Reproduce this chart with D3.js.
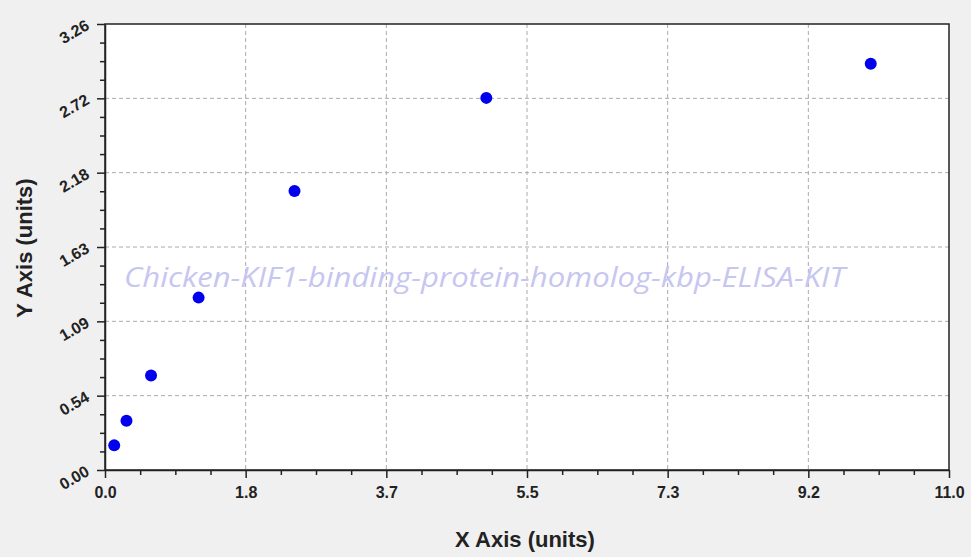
<!doctype html>
<html>
<head>
<meta charset="utf-8">
<title>ELISA standard curve</title>
<style>
  body { margin:0; background:#f0f0f0; }
  svg { display:block; }
  .axis path, .axis line { stroke:#222; stroke-width:1.5px; }
  .axis text { font-family:"Liberation Sans", Arial, sans-serif; font-weight:bold; fill:#222; }
  .grid line { stroke:#aaa; stroke-width:1px; stroke-dasharray:4,3; }
  .title { font-family:"Liberation Sans", Arial, sans-serif; font-weight:bold; fill:#222; font-size:22px; }
  .mark { font-family:"Open Sans", sans-serif; font-style:italic; fill:#c6c6f0; font-size:28px; }
</style>
<script src="https://cdn.jsdelivr.net/npm/d3@7"></script>
</head>
<body>
<svg id="chart" width="971" height="557"></svg>
<script>
// values
var xValues = [0.12, 0.28, 0.60, 1.22, 2.47, 4.97, 9.98]
var yValues = [0.18, 0.36, 0.69, 1.26, 2.04, 2.72, 2.97]
var xTicks = [0, 11/6, 22/6, 33/6, 44/6, 55/6, 11]
var xTickLabels = ["0.0", "1.8", "3.7", "5.5", "7.3", "9.2", "11.0"]
var yTicks = [0, 3.26/6, 6.52/6, 9.78/6, 13.04/6, 16.3/6, 3.26]
var yTickLabels = ["0.00", "0.54", "1.09", "1.63", "2.18", "2.72", "3.26"]
var watermark = "Chicken-KIF1-binding-protein-homolog-kbp-ELISA-KIT"

var pLeft = 105, pRight = 949, pTop = 24, pBottom = 470
var svg = d3.select("#chart")

var x = d3.scaleLinear().domain([0, 11]).range([pLeft, pRight])
var y = d3.scaleLinear().domain([0, 3.26]).range([pBottom, pTop])

// minor ticks: 4 steps between majors
function minors(ticks) {
  var out = []
  for (var i = 0; i < ticks.length - 1; i++) {
    var step = (ticks[i+1] - ticks[i]) / 4
    for (var k = 1; k < 4; k++) out.push(ticks[i] + step*k)
  }
  return out
}

svg.append("rect")
  .attr("x", pLeft).attr("y", pTop)
  .attr("width", pRight - pLeft).attr("height", pBottom - pTop)
  .style("fill", "white")

// grid
svg.append("g").attr("class", "grid")
  .selectAll("line").data(xTicks.slice(1, -1)).enter().append("line")
  .attr("x1", function(d){ return x(d) }).attr("x2", function(d){ return x(d) })
  .attr("y1", pTop).attr("y2", pBottom)
svg.append("g").attr("class", "grid")
  .selectAll("line").data(yTicks.slice(1, -1)).enter().append("line")
  .attr("y1", function(d){ return y(d) }).attr("y2", function(d){ return y(d) })
  .attr("x1", pLeft).attr("x2", pRight)

// watermark
svg.append("text").attr("class", "mark")
  .attr("x", 124).attr("y", 287)
  .attr("textLength", 721).attr("lengthAdjust", "spacingAndGlyphs")
  .text(watermark)

// box
svg.append("rect")
  .attr("x", pLeft).attr("y", pTop)
  .attr("width", pRight - pLeft).attr("height", pBottom - pTop)
  .style("fill", "none").style("stroke", "#222").style("stroke-width", 1.5)

// x axis
svg.append("g").attr("class", "axis")
  .attr("transform", "translate(0," + pBottom + ")")
  .call(d3.axisBottom(x).tickValues(minors(xTicks)).tickSize(5).tickFormat(""))
  .select(".domain").remove()
var gx = svg.append("g").attr("class", "axis")
  .attr("transform", "translate(0," + pBottom + ")")
  .call(d3.axisBottom(x).tickValues(xTicks).tickSizeInner(8).tickSizeOuter(0)
    .tickFormat(function(d, i){ return xTickLabels[i] }))
gx.selectAll("text").style("font-size", "16px").attr("y", 17)

// y axis
svg.append("g").attr("class", "axis")
  .attr("transform", "translate(" + pLeft + ",0)")
  .call(d3.axisLeft(y).tickValues(minors(yTicks)).tickSize(5).tickFormat(""))
  .select(".domain").remove()
var gy = svg.append("g").attr("class", "axis")
  .attr("transform", "translate(" + pLeft + ",0)")
  .call(d3.axisLeft(y).tickValues(yTicks).tickSizeInner(8).tickSizeOuter(0)
    .tickFormat(function(d, i){ return yTickLabels[i] }))
gy.selectAll("text")
  .style("font-size", "16px")
  .attr("x", -17).attr("dy", "0.3em")
  .attr("transform", "rotate(-30 -17 0)")

// points
svg.append("g").selectAll("circle")
  .data(xValues).enter().append("circle")
  .attr("cx", function(d){ return x(d) })
  .attr("cy", function(d, i){ return y(yValues[i]) })
  .attr("r", 6)
  .style("fill", "#0000ee")

// axis titles
svg.append("text").attr("class", "title")
  .attr("x", 525).attr("y", 547).attr("text-anchor", "middle")
  .text("X Axis (units)")
svg.append("text").attr("class", "title")
  .attr("transform", "translate(32,248) rotate(-90)").attr("text-anchor", "middle")
  .text("Y Axis (units)")
</script>
</body>
</html>
